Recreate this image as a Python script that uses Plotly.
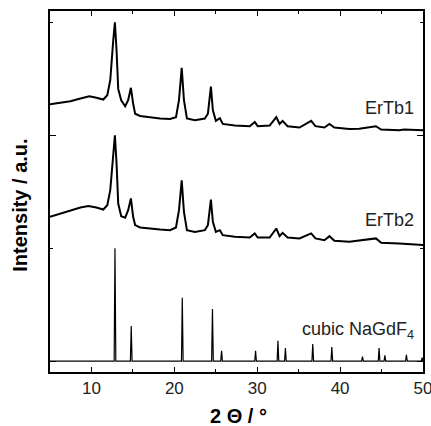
import plotly.graph_objects as go

# ---- data (2Theta in degrees, normalized intensity with offsets) ----
ertb1_x = [5.0, 6.26, 7.46, 8.67, 9.75, 10.47, 11.43, 11.91, 12.27, 12.63, 12.83, 13.03, 13.23,
           13.59, 14.07, 14.43, 14.76, 15.03, 15.27, 15.87, 17.08, 18.28, 19.48, 20.20, 20.56,
           20.89, 21.16, 21.52, 22.48, 23.68, 24.05, 24.41, 24.65, 25.01, 25.49, 25.85, 27.29,
           29.10, 29.70, 30.06, 31.50, 32.30, 32.70, 33.06, 33.66, 35.10, 36.51, 37.02, 38.11,
           38.71, 39.31, 41.11, 42.31, 44.32, 44.95, 47.12, 47.72, 50.0]
ertb1_y = [2.274, 2.286, 2.30, 2.325, 2.345, 2.334, 2.316, 2.354, 2.487, 2.84, 3.0, 2.75, 2.41,
           2.31, 2.257, 2.31, 2.42, 2.28, 2.19, 2.17, 2.156, 2.148, 2.144, 2.16, 2.31,
           2.596, 2.31, 2.148, 2.133, 2.148, 2.19, 2.43, 2.22, 2.127, 2.15, 2.10, 2.086,
           2.08, 2.118, 2.08, 2.086, 2.16, 2.10, 2.127, 2.08, 2.068, 2.127, 2.08, 2.068,
           2.10, 2.068, 2.056, 2.058, 2.08, 2.05, 2.044, 2.05, 2.044]

ertb2_x = [5.0, 6.26, 7.46, 8.67, 9.63, 10.59, 11.43, 11.91, 12.27, 12.63, 12.83, 13.03, 13.23,
           13.59, 14.07, 14.43, 14.76, 15.03, 15.27, 15.87, 17.08, 18.28, 19.48, 20.20, 20.56,
           20.89, 21.16, 21.52, 22.48, 23.68, 24.05, 24.41, 24.65, 25.01, 25.49, 25.85, 27.29,
           29.10, 29.70, 30.06, 31.50, 32.30, 32.70, 33.06, 33.66, 35.10, 36.51, 37.02, 38.11,
           38.71, 39.31, 41.11, 44.32, 44.95, 47.12, 50.0]
ertb2_y = [1.277, 1.307, 1.336, 1.36, 1.372, 1.36, 1.342, 1.38, 1.513, 1.808, 2.0, 1.75, 1.395,
           1.283, 1.27, 1.336, 1.44, 1.277, 1.204, 1.183, 1.171, 1.165, 1.159, 1.183, 1.336,
           1.60, 1.32, 1.159, 1.144, 1.159, 1.204, 1.43, 1.233, 1.144, 1.159, 1.115, 1.10,
           1.094, 1.13, 1.094, 1.094, 1.174, 1.106, 1.135, 1.094, 1.086, 1.13, 1.086, 1.07,
           1.106, 1.065, 1.056, 1.086, 1.047, 1.042, 1.027]

# reference pattern: cubic NaGdF4 peak positions and relative intensities
ref_pos = [12.84, 14.8, 20.96, 24.6, 25.7, 29.8, 32.5, 33.4, 36.7, 39.0, 42.7, 44.7, 45.4, 48.0, 49.9]
ref_int = [1.0, 0.31, 0.56, 0.46, 0.09, 0.09, 0.18, 0.115, 0.15, 0.125, 0.04, 0.115, 0.05, 0.055, 0.03]

x_ticks = [10, 20, 30, 40, 50]
labels = ["ErTb1", "ErTb2", "cubic NaGdF<sub>4</sub>"]

# build stick-like narrow peaks for the reference pattern
hw = 0.1
ref_x, ref_y = [5.0], [0.0]
for p, h in zip(ref_pos, ref_int):
    ref_x += [p - hw, p, p + hw]
    ref_y += [0.0, h, 0.0]
ref_x.append(50.0)
ref_y.append(0.0)

fig = go.Figure()
fig.add_trace(go.Scatter(x=ertb1_x, y=ertb1_y, mode="lines",
                         line=dict(color="black", width=2), showlegend=False))
fig.add_trace(go.Scatter(x=ertb2_x, y=ertb2_y, mode="lines",
                         line=dict(color="black", width=2), showlegend=False))
fig.add_trace(go.Scatter(x=ref_x, y=ref_y, mode="lines",
                         line=dict(color="black", width=1.2), showlegend=False))

font_family = "Liberation Sans, Arial, sans-serif"
lab_font = dict(size=18, color="#222", family=font_family)
fig.add_annotation(x=49.2, y=2.24, xref="x", yref="y", text=labels[0], showarrow=False,
                   xanchor="right", yanchor="middle", font=lab_font)
fig.add_annotation(x=49.2, y=1.25, xref="x", yref="y", text=labels[1], showarrow=False,
                   xanchor="right", yanchor="middle", font=lab_font)
fig.add_annotation(x=49.2, y=0.27, xref="x", yref="y", text=labels[2], showarrow=False,
                   xanchor="right", yanchor="middle", font=lab_font)

# axis titles as annotations (positioned to match the reference)
fig.add_annotation(x=-0.079, y=0.462, xref="paper", yref="paper", text="<b>Intensity / a.u.</b>",
                   showarrow=False, textangle=-90, xanchor="center", yanchor="middle",
                   font=dict(size=20, color="black", family=font_family))
fig.add_annotation(x=0.505, y=-0.122, xref="paper", yref="paper", text="<b>2 Θ / °</b>",
                   showarrow=False, xanchor="center", yanchor="middle",
                   font=dict(size=20, color="black", family=font_family))

fig.update_xaxes(range=[5, 50], tickvals=x_ticks, ticks="inside", ticklen=5, tickwidth=1.3,
                 tickcolor="black", showline=True, linecolor="black", linewidth=1.5, mirror="ticks",
                 showgrid=False, zeroline=False, automargin=False, ticklabeloverflow="allow",
                 minor=dict(tickvals=[15, 25, 35, 45], ticks="inside", ticklen=3, tickwidth=1.3,
                            tickcolor="black", showgrid=False),
                 tickfont=dict(size=17, color="#222", family=font_family))
fig.update_yaxes(range=[-0.097, 3.1], tickvals=[0, 2], ticks="inside", ticklen=6, tickwidth=1.3,
                 tickcolor="black", showticklabels=False, showline=True, linecolor="black",
                 linewidth=1.5, mirror="ticks", showgrid=False, zeroline=False, automargin=False,
                 minor=dict(tickvals=[1, 3], ticks="inside", ticklen=3, tickwidth=1.3,
                            tickcolor="black", showgrid=False))

fig.update_layout(width=431, height=426, margin=dict(l=50, r=8, t=11, b=54),
                  paper_bgcolor="white", plot_bgcolor="white",
                  font=dict(family=font_family))

fig.write_html("out.html", config={"displayModeBar": False},
               post_script="document.body.style.margin='0';document.body.style.overflow='hidden';")
